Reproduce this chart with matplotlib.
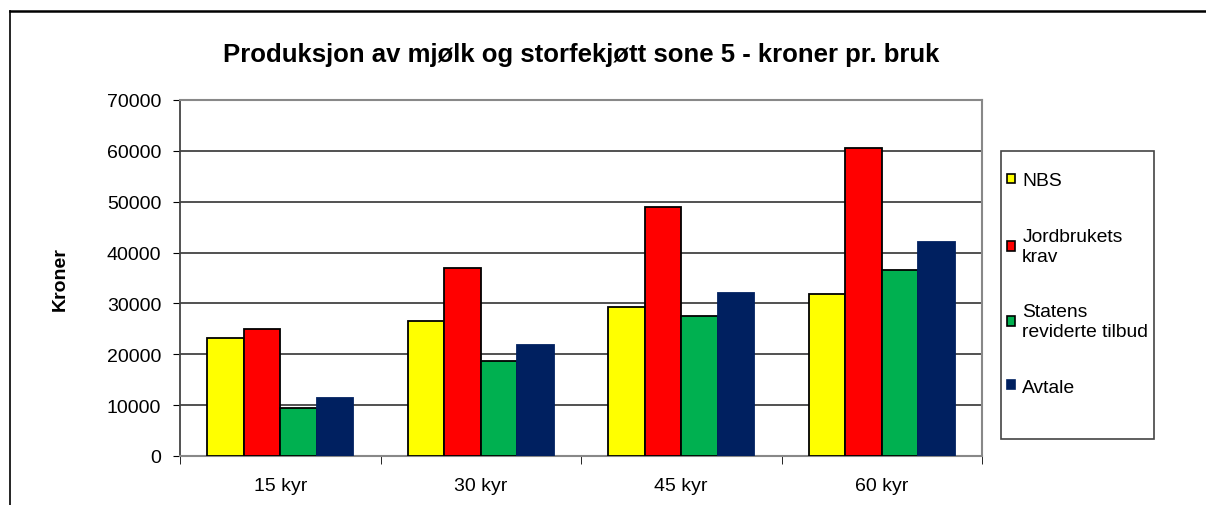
import matplotlib
matplotlib.use("Agg")
import matplotlib.pyplot as plt
import numpy as np
from matplotlib.lines import Line2D
from matplotlib.patches import Patch, Rectangle

plt.rcParams["font.family"] = ["Liberation Sans", "DejaVu Sans"]

# Data
categories = ["15 kyr", "30 kyr", "45 kyr", "60 kyr"]
series_names = ["NBS", "Jordbrukets\nkrav", "Statens\nreviderte tilbud", "Avtale"]
nbs = [23150, 26600, 29250, 31900]
jordbruk = [25000, 37000, 49000, 60500]
staten = [9350, 18700, 27600, 36600]
avtale = [11500, 21850, 32100, 42100]
colours = ["#ffff00", "#ff0000", "#00b050", "#002060"]
edges = ["black", "black", "black", "#002060"]

W, H = 1206, 506
fig = plt.figure(figsize=(W / 100, H / 100), dpi=100)

# outer chart frame (left + top edges visible)
fig.add_artist(Line2D([10 / W, 10 / W], [0, 1 - 12 / H], color="black", lw=1.2))
fig.add_artist(Line2D([10 / W, 1], [1 - 12 / H, 1 - 12 / H], color="black", lw=1.8))

# plot area in pixels: x 180..982, y 101..457
ax = fig.add_axes([180 / W, 1 - 457 / H, (982 - 180) / W, (457 - 101) / H])

x = np.arange(len(categories))
bw = 1 / 5.5
for i, vals in enumerate([nbs, jordbruk, staten, avtale]):
    ax.bar(x + (i - 1.5) * bw, vals, width=bw, color=colours[i],
           edgecolor=edges[i], linewidth=1.3, zorder=3)

ax.set_xlim(-0.5, 3.5)
ax.set_ylim(0, 70000)
ax.set_yticks(np.arange(0, 70001, 10000))
ax.tick_params(axis="y", labelsize=14, length=5, direction="out", pad=8.5)
ax.set_xticks(x)
ax.set_xticklabels(categories, fontsize=14)
ax.tick_params(axis="x", length=0, pad=15)
ax.set_xticks(np.arange(-0.5, 3.6, 1), minor=True)
ax.tick_params(axis="x", which="minor", length=6, direction="out")
ax.grid(axis="y", color="#222222", lw=1.1, zorder=0)
for s in ["top", "right", "bottom"]:
    ax.spines[s].set_color("#888888")
    ax.spines[s].set_linewidth(1.5)
ax.spines["left"].set_color("#444444")
ax.spines["left"].set_linewidth(1.3)

ax.set_ylabel("Kroner", fontsize=14, fontweight="bold", labelpad=27)

fig.text(581 / W, 1 - 55 / H, "Produksjon av mjølk og storfekjøtt sone 5 - kroner pr. bruk",
         ha="center", va="center", fontsize=18.5, fontweight="bold")

# legend box drawn separately, entries placed inside it
fig.add_artist(Rectangle((1001 / W, 1 - 440 / H), 153 / W, 288 / H,
                         transform=fig.transFigure, facecolor="none",
                         edgecolor="#444444", lw=1.2))
handles = [Patch(facecolor=colours[i], edgecolor=edges[i], linewidth=1.2) for i in range(4)]
fig.legend(handles, series_names, loc="center left",
           bbox_to_anchor=(1001 / W, 1 - 285 / H), fontsize=13.9,
           frameon=False, handlelength=0.4, handleheight=0.4,
           handletextpad=0.4, labelspacing=2.0, borderpad=0.3,
           borderaxespad=0)

fig.savefig("out.png", dpi=100, facecolor="white")
